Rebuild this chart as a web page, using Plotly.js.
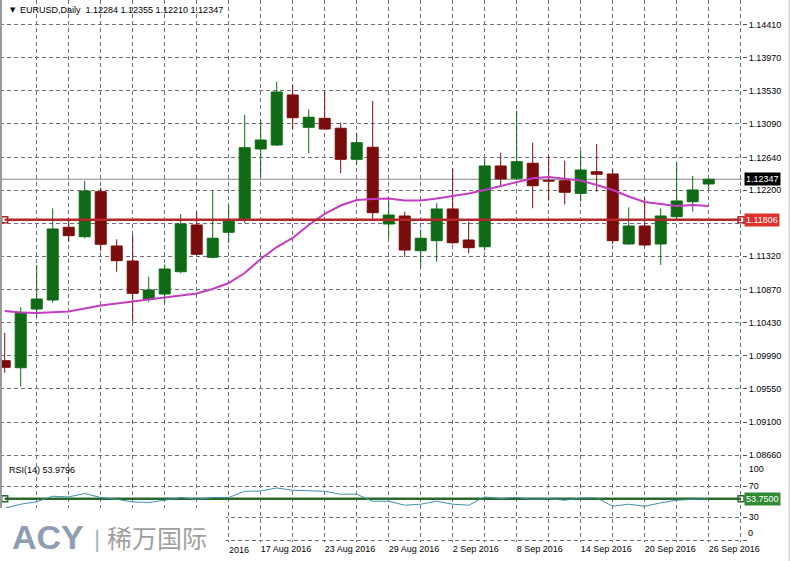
<!DOCTYPE html>
<html>
<head>
<meta charset="utf-8">
<script src="https://cdn.plot.ly/plotly-3.0.1.min.js"></script>
<style>html,body{margin:0;padding:0;background:#fff;}#chart{width:790px;height:561px;}</style>
</head>
<body>
<div id="chart"></div>
<script>
const dates = ['26 Jul 2016','27 Jul 2016','28 Jul 2016','29 Jul 2016','1 Aug 2016','2 Aug 2016','3 Aug 2016','4 Aug 2016','5 Aug 2016','8 Aug 2016','9 Aug 2016','10 Aug 2016','11 Aug 2016','12 Aug 2016','15 Aug 2016','16 Aug 2016','17 Aug 2016','18 Aug 2016','19 Aug 2016','22 Aug 2016','23 Aug 2016','24 Aug 2016','25 Aug 2016','26 Aug 2016','29 Aug 2016','30 Aug 2016','31 Aug 2016','1 Sep 2016','2 Sep 2016','5 Sep 2016','6 Sep 2016','7 Sep 2016','8 Sep 2016','9 Sep 2016','12 Sep 2016','13 Sep 2016','14 Sep 2016','15 Sep 2016','16 Sep 2016','19 Sep 2016','20 Sep 2016','21 Sep 2016','22 Sep 2016','23 Sep 2016','26 Sep 2016'];

const openP  = [1.09921,1.09827,1.10612,1.10733,1.11705,1.11579,1.12181,1.11455,1.11254,1.10742,1.10813,1.11111,1.11736,1.11304,1.11638,1.11802,1.12752,1.12805,1.13474,1.13042,1.13162,1.13029,1.12614,1.12775,1.11749,1.11856,1.11392,1.11526,1.11950,1.11535,1.11445,1.12525,1.12360,1.12561,1.12333,1.12328,1.12159,1.12448,1.12418,1.11482,1.11722,1.11482,1.11847,1.12047,1.12284];
const highP  = [1.10295,1.10635,1.11201,1.11959,1.11825,1.12324,1.12234,1.11544,1.11602,1.11044,1.11210,1.11883,1.11905,1.12194,1.12003,1.13207,1.13140,1.13652,1.13608,1.13283,1.13518,1.13104,1.12970,1.13394,1.12093,1.11913,1.11678,1.12026,1.12494,1.11780,1.12628,1.12702,1.13264,1.12836,1.12658,1.12595,1.12725,1.12819,1.12480,1.11972,1.12093,1.11959,1.12569,1.12391,1.12355];
const lowP   = [1.09760,1.09573,1.10509,1.10697,1.11512,1.11558,1.11388,1.11111,1.10443,1.10702,1.10689,1.11090,1.11330,1.11290,1.11491,1.11758,1.12373,1.12792,1.13015,1.12694,1.13015,1.12427,1.12538,1.11802,1.11558,1.11308,1.11170,1.11245,1.11482,1.11357,1.11392,1.12248,1.12337,1.11959,1.12061,1.12012,1.12047,1.12181,1.11482,1.11470,1.11445,1.11201,1.11825,1.11913,1.12210];
const closeP = [1.09833,1.10568,1.10746,1.11682,1.11593,1.12190,1.11478,1.11258,1.10822,1.10866,1.11147,1.11749,1.11344,1.11558,1.11793,1.12769,1.12872,1.13514,1.13170,1.13176,1.13019,1.12614,1.12836,1.11900,1.11869,1.11401,1.11558,1.11950,1.11499,1.11432,1.12525,1.12351,1.12582,1.12261,1.12324,1.12173,1.12471,1.12414,1.11526,1.11722,1.11468,1.11856,1.12057,1.12204,1.12347];

const maLine = [1.10586,1.10566,1.10559,1.10566,1.10579,1.10619,1.10659,1.10686,1.10713,1.10733,1.10766,1.10793,1.10820,1.10880,1.10960,1.11094,1.11281,1.11441,1.11562,1.11736,1.11883,1.11996,1.12070,1.12083,1.12090,1.12063,1.12063,1.12090,1.12123,1.12157,1.12204,1.12257,1.12315,1.12360,1.12377,1.12351,1.12331,1.12270,1.12204,1.12117,1.12043,1.12016,1.11990,1.12003,1.11990];

const rsi14 = [41.6,46.8,50.0,57.1,56.2,60.6,55.4,53.2,49.7,49.0,51.9,55.4,53.2,55.4,55.4,63.5,63.9,67.8,64.8,63.9,63.5,59.7,59.7,50.6,50.6,45.5,46.8,50.6,46.8,45.5,56.2,54.1,55.4,53.2,54.1,51.9,54.9,54.9,44.2,46.8,44.2,48.5,51.9,53.2,53.9796];

const priceTicks = [1.14410,1.13970,1.13530,1.13090,1.12640,1.12200,1.11760,1.11320,1.10870,1.10430,1.09990,1.09550,1.09100,1.08660];
const rsiLevels = [30,70];
const rsiBounds = [0,100];
const redLevel = 1.11806;
const rsiLevel = 53.75;
const symbolName = 'EURUSD,Daily';

const idx = dates.map((d,i)=>i);
const last = dates.length-1;
const f5 = v => v.toFixed(5);

const G = '#0c6b14', R = '#7a0b0b';
const gridC = '#6e6e7a';
const FONT = 'Liberation Sans, Arial, sans-serif';

const xEnd = 46.081;
const gridTicks = []; for (let k=2;k<=46;k+=2) gridTicks.push(k);
const firstShownLabel = 16;
const gridText = gridTicks.map(k => (k%4===0 && k>=firstShownLabel && k<=last) ? dates[k] : '');
const partialLabelIdx = 12;

const traces = [
  {type:'candlestick', x:idx, open:openP, high:highP, low:lowP, close:closeP,
   increasing:{line:{color:G,width:1}, fillcolor:G},
   decreasing:{line:{color:R,width:1}, fillcolor:R},
   whiskerwidth:0, hoverinfo:'skip', xaxis:'x', yaxis:'y', showlegend:false},
  {type:'scatter', mode:'lines', x:idx, y:maLine, line:{color:'#c43cc4',width:2}, hoverinfo:'skip', xaxis:'x', yaxis:'y', showlegend:false},
  {type:'scatter', mode:'lines+markers', x:[idx[0], xEnd-0.06], y:[redLevel, redLevel], line:{color:'#b3282a',width:2.5},
   marker:{symbol:'square-open', size:6, color:'#b3282a', line:{width:1.5}}, cliponaxis:false, hoverinfo:'skip', xaxis:'x', yaxis:'y', showlegend:false},
  {type:'scatter', mode:'lines', x:idx, y:rsi14, line:{color:'#3f8fae',width:1}, hoverinfo:'skip', xaxis:'x', yaxis:'y3', showlegend:false},
  {type:'scatter', mode:'lines+markers', x:[idx[0], xEnd-0.06], y:[rsiLevel, rsiLevel], line:{color:'#2a682c',width:2.5},
   marker:{symbol:'square-open', size:6, color:'#2a682c', line:{width:1.5}}, cliponaxis:false, hoverinfo:'skip', xaxis:'x', yaxis:'y2', showlegend:false}
];

const W = 742, H = 542;
const px = v => v / W;
const py = v => 1 - v / H;
const rsiDomain = [0, 79/H];
const rsiRange = [-2, 100];

const layout = {
  width:790, height:561,
  margin:{l:0, r:48, t:0, b:19},
  paper_bgcolor:'#ffffff', plot_bgcolor:'#ffffff',
  showlegend:false,
  boxgap:0.02, boxgroupgap:0.3,
  font:{family:FONT, size:9, color:'#000'},
  xaxis:{range:[-0.294, xEnd], tickvals:gridTicks, ticktext:gridText, showgrid:true, gridcolor:gridC, griddash:'4px,3px', gridwidth:1,
         zeroline:false, showline:false, ticks:'', ticklabelposition:'outside right', tickfont:{family:FONT,size:9,color:'#000'},
         anchor:'y2', rangeslider:{visible:false}, fixedrange:true},
  yaxis:{domain:[(H-461)/H, 1], range:[1.08580, 1.14744], side:'right', anchor:'x', tickvals:priceTicks,
         ticktext:priceTicks.map(v => Math.abs(v-redLevel) < 0.0008 ? '' : f5(v)),
         showgrid:true, gridcolor:gridC, griddash:'4px,3px', gridwidth:1, zeroline:false, showline:false,
         ticks:'outside', ticklen:4, tickcolor:'#555', tickfont:{family:FONT,size:9,color:'#000'}, fixedrange:true},
  yaxis2:{domain:rsiDomain, range:rsiRange, side:'right', anchor:'x', tickvals:[rsiBounds[0]].concat(rsiLevels), ticktext:['', String(rsiLevels[0]), String(rsiLevels[1])],
          showgrid:true, gridcolor:gridC, griddash:'4px,3px', gridwidth:1, zeroline:false, showline:false,
          ticks:'outside', ticklen:4, tickcolor:'#555', tickfont:{family:FONT,size:9,color:'#000'}, fixedrange:true},
  yaxis3:{domain:rsiDomain, range:rsiRange, overlaying:'y2', side:'right', anchor:'x', tickvals:[93], ticktext:[String(rsiBounds[1])],
          showgrid:false, zeroline:false, showline:false, ticks:'outside', ticklen:4, tickcolor:'rgba(0,0,0,0)',
          tickfont:{family:FONT,size:9,color:'#000'}, fixedrange:true},
  shapes:[
    {type:'line', xref:'paper', yref:'y', x0:0, x1:1, y0:closeP[last], y1:closeP[last], line:{color:'#8a8a8a', width:1}, layer:'below'},
    {type:'rect', xref:'paper', yref:'paper', x0:px(-2), x1:px(226), y0:py(508), y1:py(562), fillcolor:'#ffffff', line:{width:0}, layer:'above'},
    {type:'line', xref:'paper', yref:'paper', x0:px(1), x1:px(1), y0:py(0), y1:py(508), line:{color:'#9a9a9a', width:2}, layer:'above'},
    {type:'line', xref:'paper', yref:'paper', x0:px(789), x1:px(789), y0:py(0), y1:py(561), line:{color:'#c8c8c8', width:1}, layer:'above'}
  ],
  annotations:[
    {xref:'paper', yref:'paper', x:px(8), y:py(10), xanchor:'left', yanchor:'middle', showarrow:false, text:'▼', font:{family:'DejaVu Sans', size:7, color:'#000'}},
    {xref:'paper', yref:'paper', x:px(18), y:py(10), xanchor:'left', yanchor:'middle', showarrow:false,
     text: symbolName + '  ' + [openP[last],highP[last],lowP[last],closeP[last]].map(f5).join(' '), font:{family:FONT, size:9, color:'#000'}},
    {xref:'paper', yref:'paper', x:px(7), y:py(470), xanchor:'left', yanchor:'middle', showarrow:false,
     text:'RSI(14) ' + rsi14[last].toFixed(4), font:{family:FONT, size:9, color:'#000'}},
    {xref:'paper', yref:'y', x:px(744), y:closeP[last], xanchor:'left', yanchor:'middle', showarrow:false, text:f5(closeP[last]),
     bgcolor:'#000000', borderpad:1, font:{family:FONT, size:9, color:'#ffffff'}},
    {xref:'paper', yref:'y', x:px(744), y:redLevel, xanchor:'left', yanchor:'middle', showarrow:false, text:f5(redLevel),
     bgcolor:'#e0302c', borderpad:1, font:{family:FONT, size:9, color:'#ffffff'}},
    {xref:'paper', yref:'y2', x:px(744), y:rsiLevel, xanchor:'left', yanchor:'middle', showarrow:false, text:rsiLevel.toFixed(4),
     bgcolor:'#2f8a33', borderpad:1, font:{family:FONT, size:9, color:'#ffffff'}},
    {xref:'paper', yref:'paper', x:px(746), y:py(540), xanchor:'left', yanchor:'bottom', showarrow:false, text:'<span>' + rsiBounds[0] + '</span>',
     font:{family:FONT, size:9, color:'#000000'}},
    {xref:'paper', yref:'paper', x:px(227), y:py(550), xanchor:'left', yanchor:'middle', showarrow:false,
     text:dates[partialLabelIdx].split(' ')[2], font:{family:FONT, size:9, color:'#000'}},
    {xref:'paper', yref:'paper', x:px(10), y:py(537), xanchor:'left', yanchor:'middle', showarrow:false, text:'<b>ACY</b>', font:{family:FONT, size:34, color:'#8f9db3'}},
    {xref:'paper', yref:'paper', x:px(97), y:py(538), xanchor:'center', yanchor:'middle', showarrow:false, text:'|', font:{family:FONT, size:24, color:'#b0b0b0'}},
    {xref:'paper', yref:'paper', x:px(105), y:py(537), xanchor:'left', yanchor:'middle', showarrow:false, text:'稀万国际', font:{family:'Noto Sans CJK SC', size:25, color:'#a0a0a0'}}
  ]
};

Plotly.newPlot('chart', traces, layout, {displayModeBar:false, staticPlot:true});
</script>
</body>
</html>
